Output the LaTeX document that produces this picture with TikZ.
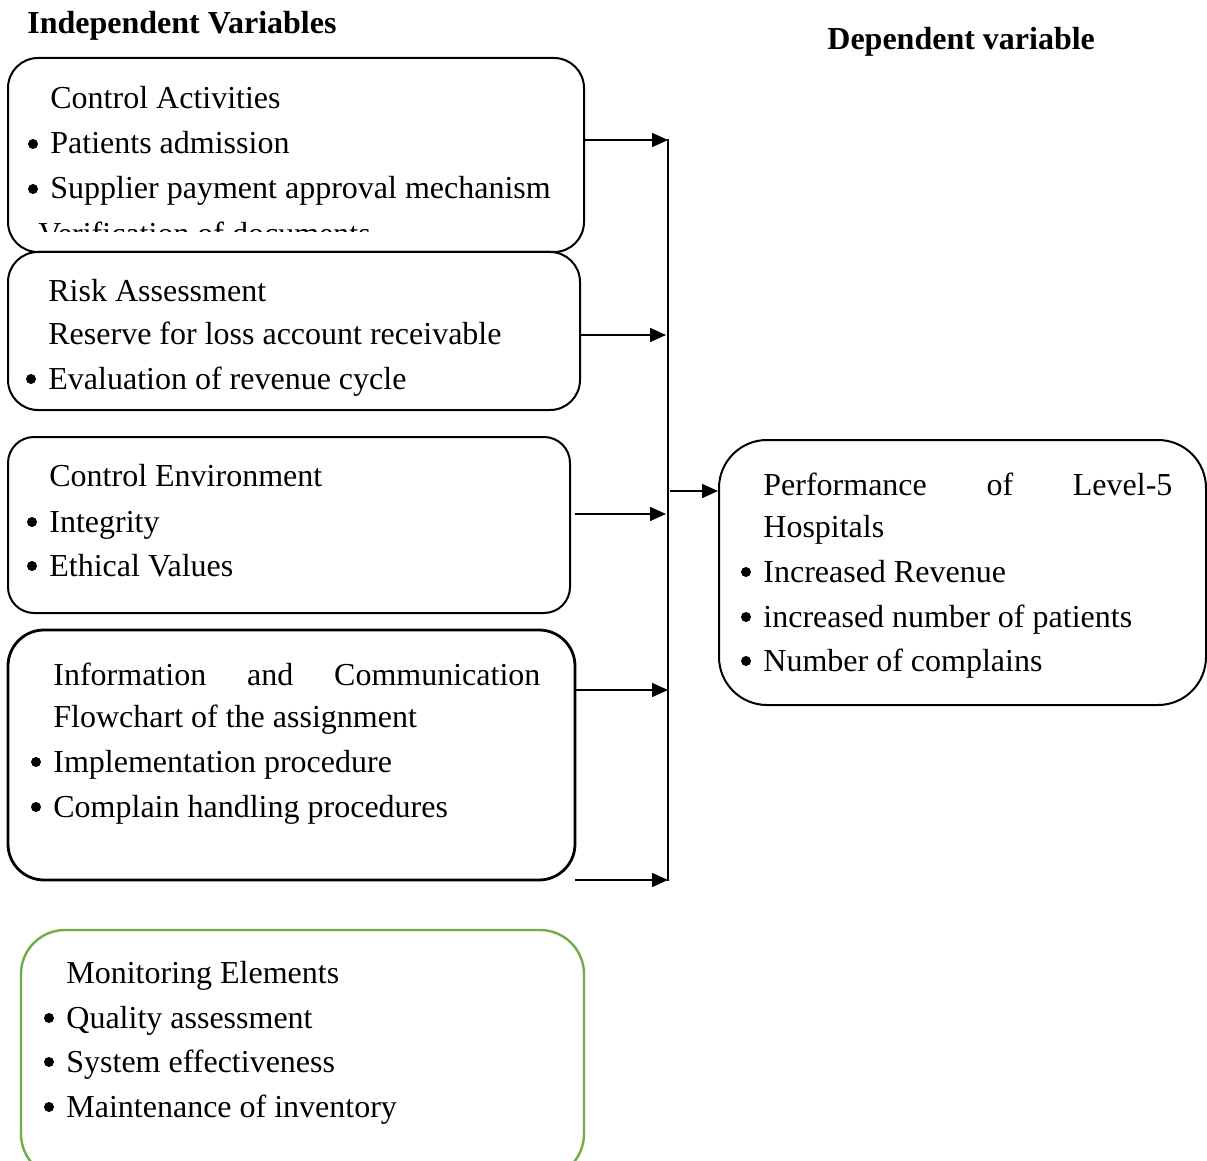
\documentclass[tikz,border=0pt]{standalone}
\usepackage{fontspec}
\setmainfont{Liberation Serif}
\usetikzlibrary{arrows.meta,fit}
\begin{document}
\begin{tikzpicture}[x=0.5pt,y=-0.5pt,
  box/.style={draw, line width=1pt, rounded corners=15pt, inner sep=0pt},
  txt/.style={anchor=base west, inner sep=0pt, font=\fontsize{16pt}{19pt}\selectfont},
  head/.style={anchor=base west, inner sep=0pt, font=\fontsize{16pt}{19pt}\selectfont\bfseries},
  dot/.style={circle, fill, inner sep=0pt, minimum size=5pt},
  arr/.style={line width=0.8pt, -{Triangle[length=8pt,width=7pt]}},
  bus/.style={line width=1pt}]
\clip (0,0) rectangle (1207,1161);
\fill[white] (0,0) rectangle (1207,1161);

% headings
\node[head] (hind) at (27,34) {Independent Variables};
\node[head] (hdep) at (827,50) {Dependent variable};

% boxes
\node[box, fit={(8,58) (584,252)}] (b1) {};
\node[box, fit={(8,252) (580,410)}] (b2) {};
\node[box, rounded corners=13pt, fit={(8,437) (570,613)}] (b3) {};
\node[box, line width=1.4pt, rounded corners=18pt, fit={(8,630) (575,880)}] (b4) {};
\node[box, draw={rgb,255:red,112;green,173;blue,71}, line width=1.2pt, rounded corners=22pt, fit={(21,930) (584,1178)}] (b5) {};
\node[box, rounded corners=24pt, fit={(719,440) (1206,705)}] (dv) {};

% box 1 text
\node[txt] (t11) at (50,109) {Control Activities};
\node[dot] (u12) at (33,144) {};
\node[txt] (t12) at (50,154) {Patients admission};
\node[dot] (u13) at (33,189) {};
\node[txt] (t13) at (50,199) {Supplier payment approval mechanism};
\begin{scope}
\clip (0,58) rectangle (600,232);
\node[txt] (t14) at (38,245) {Verification of documents};
\end{scope}

% box 2 text
\node[txt] (t21) at (48,302) {Risk Assessment};
\node[txt] (t22) at (48,344) {Reserve for loss account receivable};
\node[dot] (u23) at (31,379) {};
\node[txt] (t23) at (48,389) {Evaluation of revenue cycle};

% box 3 text
\node[txt] (t31) at (49,487) {Control Environment};
\node[dot] (u32) at (32,522) {};
\node[txt] (t32) at (49,532) {Integrity};
\node[dot] (u33) at (32,566) {};
\node[txt] (t33) at (49,576) {Ethical Values};

% box 4 text
\node[txt] (t41) at (53,685) {\makebox[243.5pt][s]{Information\hfill and\hfill Communication}};
\node[txt] (t42) at (53,727) {Flowchart of the assignment};
\node[dot] (u43) at (36,762) {};
\node[txt] (t43) at (53,772) {Implementation procedure};
\node[dot] (u44) at (36,807) {};
\node[txt] (t44) at (53,817) {Complain handling procedures};

% box 5 text
\node[txt] (t51) at (66,983) {Monitoring Elements};
\node[dot] (u52) at (49,1018) {};
\node[txt] (t52) at (66,1028) {Quality assessment};
\node[dot] (u53) at (49,1062) {};
\node[txt] (t53) at (66,1072) {System effectiveness};
\node[dot] (u54) at (49,1107) {};
\node[txt] (t54) at (66,1117) {Maintenance of inventory};

% dependent box text
\node[txt] (d1) at (763,495) {\makebox[204.5pt][s]{Performance\hfill of\hfill Level-5}};
\node[txt] (d2) at (763,537) {Hospitals};
\node[dot] (ud3) at (746,572) {};
\node[txt] (d3) at (763,582) {Increased Revenue};
\node[dot] (ud4) at (746,617) {};
\node[txt] (d4) at (763,627) {increased number of patients};
\node[dot] (ud5) at (746,661) {};
\node[txt] (d5) at (763,671) {Number of complains};

% bus and arrows
\coordinate (bt) at (668,139);
\coordinate (bb) at (668,881);
\draw[bus] (bt) -- (bb);
\coordinate (e1) at (668,140);
\coordinate (e2) at (666,335);
\coordinate (e3) at (666,514);
\coordinate (e4) at (668,690);
\coordinate (e5) at (668,880);
\coordinate (s3) at (575,514);
\coordinate (s4) at (575,690);
\coordinate (s5) at (575,880);
\coordinate (s6) at (670,491);
\draw[arr] (b1.east |- e1) -- (e1);
\draw[arr] (b2.east |- e2) -- (e2);
\draw[arr] (s3) -- (e3);
\draw[arr] (s4) -- (e4);
\draw[arr] (s5) -- (e5);
\draw[arr] (s6) -- (dv.west |- s6);
\end{tikzpicture}
\end{document}
